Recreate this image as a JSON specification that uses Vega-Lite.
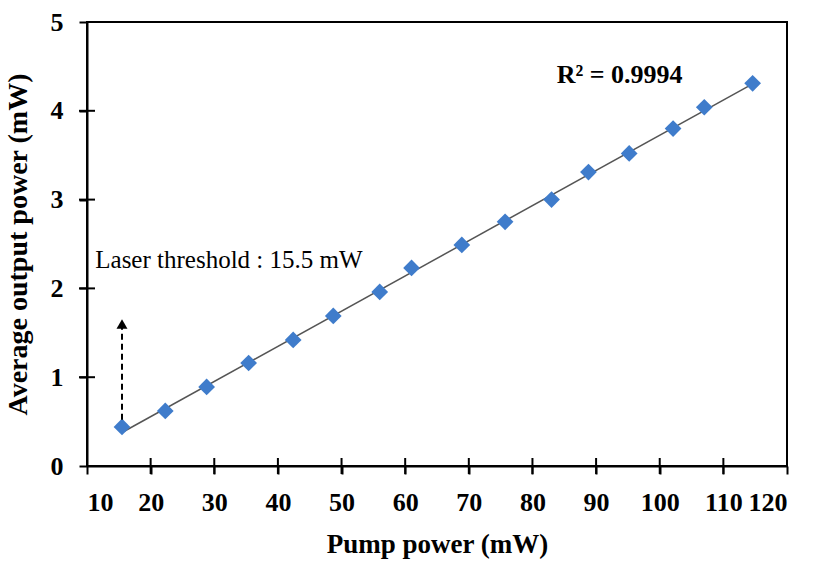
{
  "$schema": "https://vega.github.io/schema/vega-lite/v6.json",
  "width": 700,
  "height": 444,
  "autosize": {"type": "none"},
  "padding": {"left": 87, "top": 22, "right": 26, "bottom": 103},
  "background": "white",
  "config": {
    "view": {"stroke": "black", "strokeWidth": 2},
    "font": "Liberation Serif",
    "axis": {
      "domainColor": "black", "domainWidth": 2, "tickColor": "black", "tickWidth": 2, "tickSize": 8,
      "labelFont": "Liberation Serif", "labelFontWeight": "bold", "labelFontSize": 26, "labelColor": "black",
      "titleFont": "Liberation Serif", "titleFontWeight": "bold", "titleColor": "black",
      "grid": false
    }
  },
  "datasets": {
    "pts": [
      {"pump": 15.5, "out": 0.44},
      {"pump": 22.3, "out": 0.62},
      {"pump": 28.8, "out": 0.89},
      {"pump": 35.4, "out": 1.16},
      {"pump": 42.4, "out": 1.42},
      {"pump": 48.7, "out": 1.69},
      {"pump": 56.0, "out": 1.96},
      {"pump": 61.0, "out": 2.23},
      {"pump": 68.9, "out": 2.49},
      {"pump": 75.7, "out": 2.75},
      {"pump": 83.0, "out": 3.0},
      {"pump": 88.8, "out": 3.31},
      {"pump": 95.2, "out": 3.52},
      {"pump": 102.1, "out": 3.8},
      {"pump": 107.0, "out": 4.04},
      {"pump": 114.6, "out": 4.31}
    ],
    "arrow": [
      {"pump": 15.5, "out": 0.52},
      {"pump": 15.5, "out": 1.6}
    ],
    "xticks": [{"pump": 20, "out": 0}, {"pump": 30, "out": 0}, {"pump": 40, "out": 0}, {"pump": 50, "out": 0}, {"pump": 60, "out": 0}, {"pump": 70, "out": 0}, {"pump": 80, "out": 0}, {"pump": 90, "out": 0}, {"pump": 100, "out": 0}, {"pump": 110, "out": 0}],
    "yticks": [{"pump": 10, "out": 1}, {"pump": 10, "out": 2}, {"pump": 10, "out": 3}, {"pump": 10, "out": 4}],
    "note1": [
      {"pump": 11.3, "out": 2.32, "label": "Laser threshold : 15.5 mW"}
    ],
    "note2": [
      {"pump": 83.8, "out": 4.4, "label": "R² = 0.9994"}
    ]
  },
  "layer": [
    {
      "data": {"name": "pts"},
      "transform": [{"regression": "out", "on": "pump"}],
      "mark": {"type": "line", "color": "#555555", "strokeWidth": 1.5},
      "encoding": {
        "x": {"field": "pump", "type": "quantitative", "scale": {"domain": [10, 120], "nice": false},
              "axis": {"values": [10,20,30,40,50,60,70,80,90,100,110,120], "format": "d", "title": "Pump power (mW)", "titleFontSize": 27, "labelPadding": 15, "titlePadding": 16}},
        "y": {"field": "out", "type": "quantitative", "scale": {"domain": [0, 5], "nice": false},
              "axis": {"values": [0,1,2,3,4,5], "format": "d", "title": "Average output power (mW)", "titleFontSize": 28, "labelPadding": 16, "titlePadding": 18}}
      }
    },
    {
      "data": {"name": "xticks"},
      "mark": {"type": "tick", "orient": "vertical", "size": 16, "thickness": 2, "color": "black", "opacity": 1},
      "encoding": {
        "x": {"field": "pump", "type": "quantitative"},
        "y": {"field": "out", "type": "quantitative"}
      }
    },
    {
      "data": {"name": "yticks"},
      "mark": {"type": "tick", "orient": "horizontal", "size": 16, "thickness": 2, "color": "black", "opacity": 1},
      "encoding": {
        "x": {"field": "pump", "type": "quantitative"},
        "y": {"field": "out", "type": "quantitative"}
      }
    },
    {
      "data": {"name": "pts"},
      "mark": {"type": "point", "shape": "diamond", "filled": true, "size": 280, "color": "#3f7ccb", "opacity": 1},
      "encoding": {
        "x": {"field": "pump", "type": "quantitative"},
        "y": {"field": "out", "type": "quantitative"}
      }
    },
    {
      "data": {"name": "arrow"},
      "mark": {"type": "line", "color": "black", "strokeWidth": 2, "strokeDash": [6, 4]},
      "encoding": {
        "x": {"field": "pump", "type": "quantitative"},
        "y": {"field": "out", "type": "quantitative"}
      }
    },
    {
      "data": {"name": "arrow"},
      "transform": [{"filter": "datum.out > 1"}],
      "mark": {"type": "point", "shape": "triangle-up", "filled": true, "size": 120, "color": "black", "opacity": 1},
      "encoding": {
        "x": {"field": "pump", "type": "quantitative"},
        "y": {"field": "out", "type": "quantitative"}
      }
    },
    {
      "data": {"name": "note1"},
      "mark": {"type": "text", "align": "left", "baseline": "middle", "fontSize": 25, "color": "black", "font": "Liberation Serif"},
      "encoding": {
        "x": {"field": "pump", "type": "quantitative"},
        "y": {"field": "out", "type": "quantitative"},
        "text": {"field": "label"}
      }
    },
    {
      "data": {"name": "note2"},
      "mark": {"type": "text", "align": "left", "baseline": "middle", "fontSize": 26, "fontWeight": "bold", "color": "black", "font": "Liberation Serif"},
      "encoding": {
        "x": {"field": "pump", "type": "quantitative"},
        "y": {"field": "out", "type": "quantitative"},
        "text": {"field": "label"}
      }
    }
  ]
}
